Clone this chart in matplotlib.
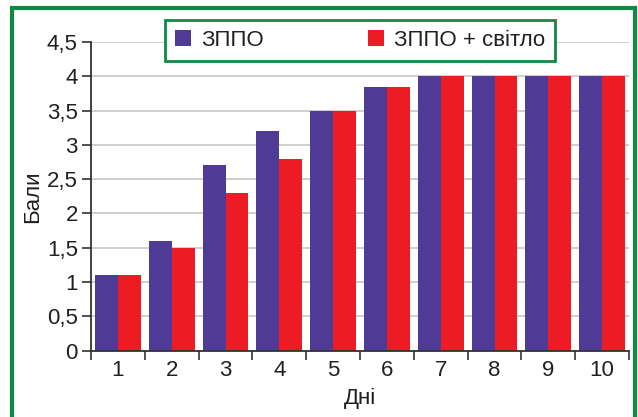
import numpy as np
import matplotlib.pyplot as plt
from matplotlib.patches import Patch, Rectangle

plt.rcParams['font.family'] = ['Liberation Sans', 'DejaVu Sans']

days = [1, 2, 3, 4, 5, 6, 7, 8, 9, 10]
zppo = [1.1, 1.6, 2.7, 3.2, 3.5, 3.85, 4, 4, 4, 4]
zppo_light = [1.1, 1.5, 2.3, 2.8, 3.5, 3.85, 4, 4, 4, 4]
yticks = [0, 0.5, 1, 1.5, 2, 2.5, 3, 3.5, 4, 4.5]
ytick_labels = ['0', '0,5', '1', '1,5', '2', '2,5', '3', '3,5', '4', '4,5']

purple = '#4f3a96'
red = '#ed1c24'
green = '#0e8a44'
ink = '#231f20'
fs = 16

fig = plt.figure(figsize=(6.38, 4.17), dpi=100)
fig.patch.set_facecolor('white')
ax = fig.add_axes([91/638, 1 - 350.6/417, 538/638, 308.6/417])

x = np.array(days)
w = 0.425
ax.bar(x - w/2, zppo, w, color=purple, label='ЗППО', zorder=2)
ax.bar(x + w/2, zppo_light, w, color=red, label='ЗППО + світло', zorder=2)

ax.set_xlim(0.5, 10.5)
ax.set_ylim(0, 4.5)
ax.set_yticks(yticks)
ax.set_yticklabels(ytick_labels)
ax.set_xticks(days)
ax.set_xticklabels([str(d) for d in days])
ax.set_xticks(np.arange(0.5, 11, 1), minor=True)

ax.grid(axis='y', color='#cccccc', linewidth=1.3, zorder=0)
ax.set_axisbelow(True)
for s in ['top', 'right']:
    ax.spines[s].set_visible(False)
for s in ['left', 'bottom']:
    ax.spines[s].set_color('#333333')
    ax.spines[s].set_linewidth(1.3)

ax.tick_params(axis='y', length=6.5, width=1.2, color='#333333', pad=3,
               labelsize=fs, labelcolor=ink)
ax.tick_params(axis='x', which='major', length=0, pad=7, labelsize=fs, labelcolor=ink)
ax.tick_params(axis='x', which='minor', length=6.5, width=1.2, color='#333333')

ax.set_xlabel('Дні', fontsize=fs, color=ink, labelpad=5)
ax.set_ylabel('Бали', fontsize=fs, color=ink, labelpad=3)

# legend box centred over the plot area
handles = [Patch(facecolor=purple, label='ЗППО'),
           Patch(facecolor=red, label='ЗППО + світло')]
leg = ax.legend(handles=handles, loc='center',
                bbox_to_anchor=(360/638, 1 - 40.5/417),
                bbox_transform=fig.transFigure, ncol=2, fontsize=fs,
                handlelength=0.72, handleheight=0.72, handletextpad=0.45,
                columnspacing=4.7, borderpad=0.45, fancybox=False,
                framealpha=1, edgecolor=green)
leg.get_frame().set_linewidth(2)
for t in leg.get_texts():
    t.set_color(ink)

# outer frame
fig.patches.append(Rectangle((12/638, -0.05), 623/638, 1.05 - 8/417,
                             transform=fig.transFigure, fill=False,
                             edgecolor=green, linewidth=3))

fig.savefig('out.png', dpi=100)
